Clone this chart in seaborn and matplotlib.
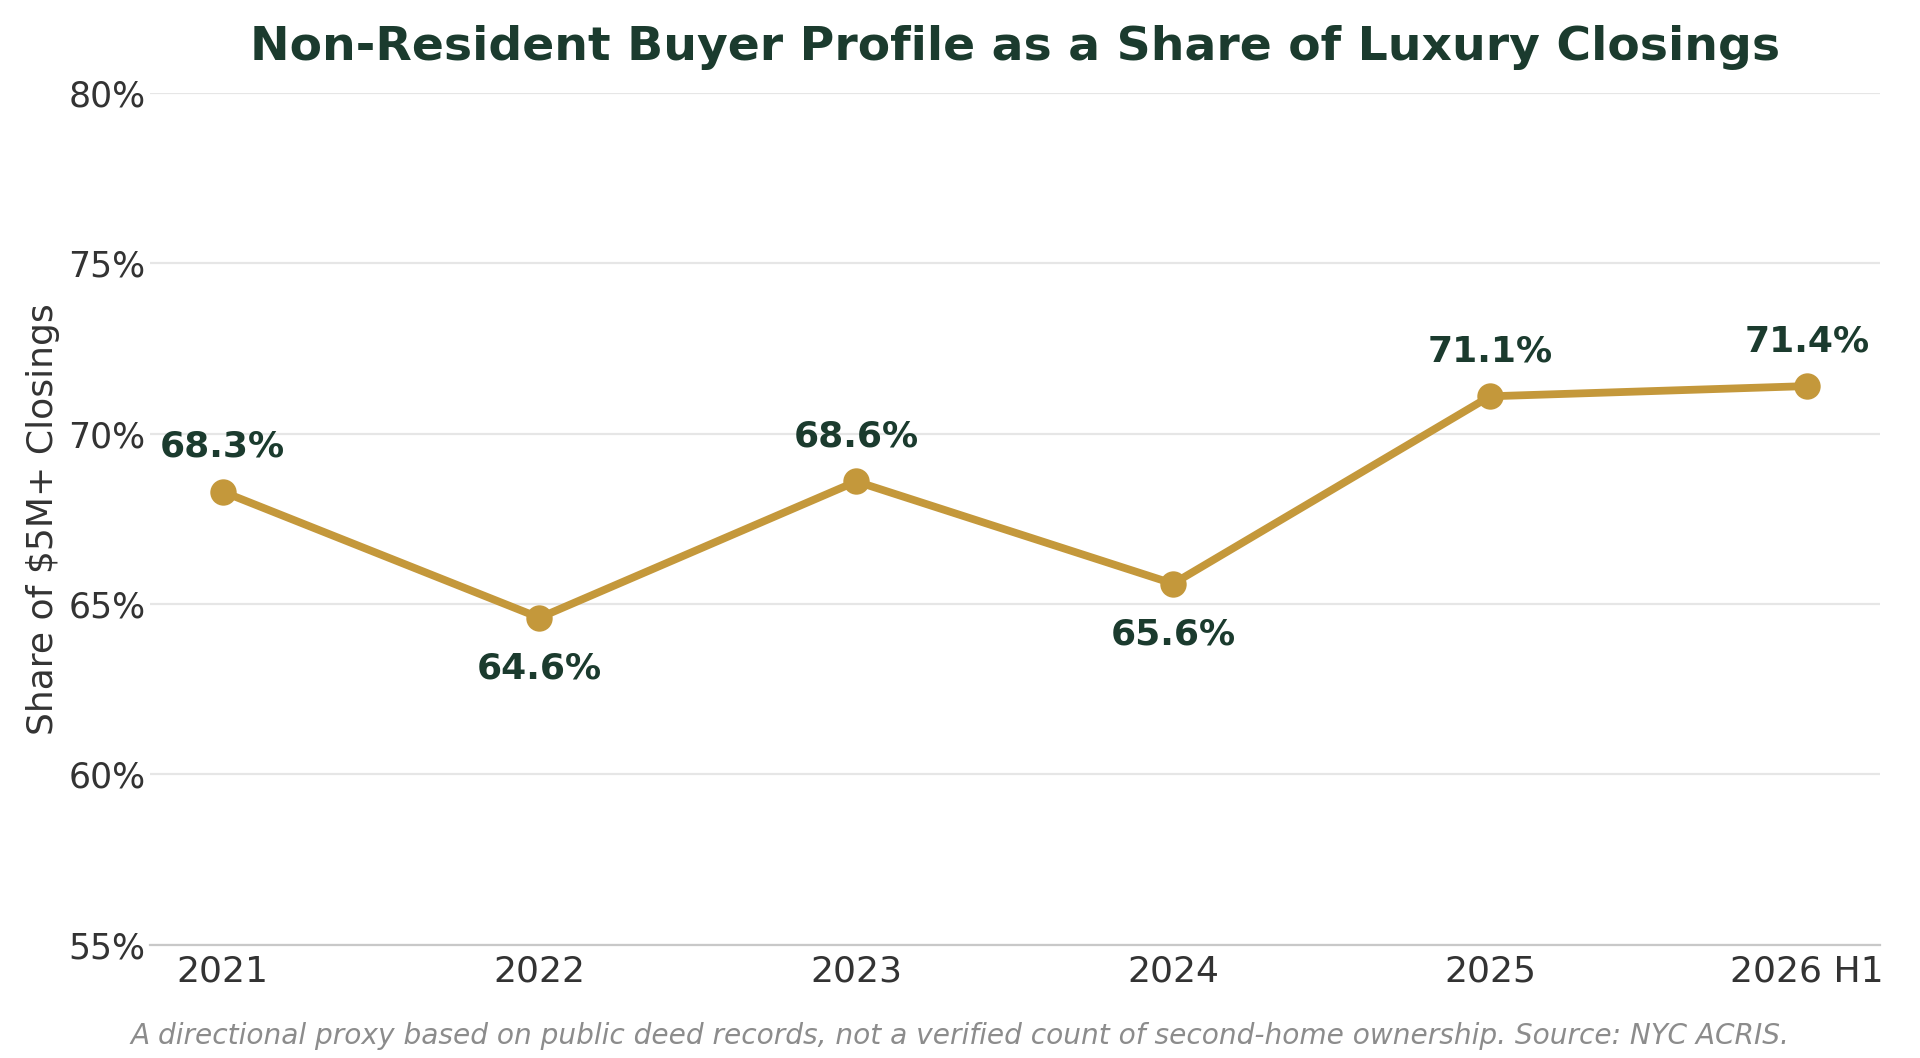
import matplotlib
matplotlib.use("Agg")
import matplotlib.pyplot as plt
import seaborn as sns
import pandas as pd
from matplotlib.ticker import FuncFormatter


# DATA

periods = ["2021", "2022", "2023", "2024", "2025", "2026 H1"]
share_pct = [68.3, 64.6, 68.6, 65.6, 71.1, 71.4]
label_below = [False, True, False, True, False, False]

df = pd.DataFrame({"period": periods, "share": share_pct})


# STYLE

sns.set_theme(style="whitegrid")
plt.rcParams["font.family"] = ["DejaVu Sans"]

gold = "#C4983B"
dark_green = "#1B3B2E"

fig, ax = plt.subplots(figsize=(9.6, 5.29), dpi=200)
fig.subplots_adjust(left=0.078, right=0.979, bottom=0.107, top=0.912)

sns.lineplot(
    data=df,
    x="period",
    y="share",
    color=gold,
    linewidth=2.8,
    marker="o",
    markersize=9.5,
    markeredgewidth=0,
    ax=ax
)

# value labels
for i, (v, below) in enumerate(zip(share_pct, label_below)):
    if below:
        ax.annotate(f"{v:.1f}%", (i, v), xytext=(0, -12), textcoords="offset points",
                    ha="center", va="top", fontsize=13, fontweight="bold", color=dark_green)
    else:
        ax.annotate(f"{v:.1f}%", (i, v), xytext=(0, 10), textcoords="offset points",
                    ha="center", va="bottom", fontsize=13, fontweight="bold", color=dark_green)

ax.set_ylim(55, 80)
ax.set_yticks([55, 60, 65, 70, 75, 80])
ax.yaxis.set_major_formatter(FuncFormatter(lambda y, _: f"{y:.0f}%"))
ax.set_xlim(-0.23, 5.23)

ax.grid(axis="x", visible=False)
ax.grid(axis="y", color="#E6E6E6", linewidth=0.8)

for side in ["top", "right", "left"]:
    ax.spines[side].set_visible(False)
ax.spines["bottom"].set_color("#C8C8C8")
ax.spines["bottom"].set_linewidth(0.8)

ax.tick_params(axis="x", labelsize=13, colors="#333333", length=0, pad=3.5)
ax.tick_params(axis="y", labelsize=12.5, colors="#333333", length=0, pad=1.5)

ax.set_xlabel("")
ax.set_ylabel("Share of $5M+ Closings", fontsize=13, color="#333333", labelpad=3)

ax.set_title("Non-Resident Buyer Profile as a Share of Luxury Closings",
             fontsize=17, fontweight="bold", color=dark_green, pad=12)

fig.text(0.5, 0.008,
         "A directional proxy based on public deed records, not a verified count of second-home ownership. Source: NYC ACRIS.",
         ha="center", va="bottom", fontsize=10.1, style="italic", color="#8C8C8C")

plt.savefig("out.png", dpi=200)
